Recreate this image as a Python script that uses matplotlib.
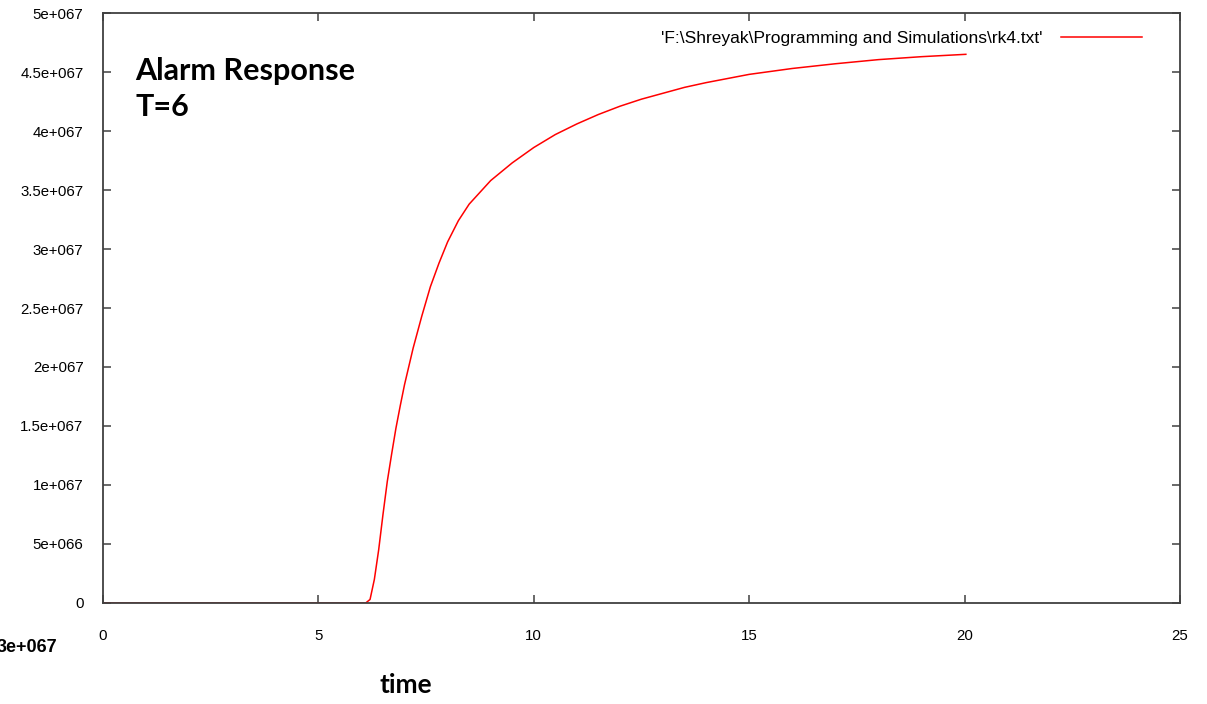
"""
Alarm response curve (gnuplot-style rk4 output), T=6.

Output: out.png
"""

import matplotlib
matplotlib.use("Agg")
import matplotlib.pyplot as plt

plt.rcParams.update({
    "font.family": ["Liberation Sans", "DejaVu Sans"],
    "font.size": 11,
})

# ── data (y in units of 1e66) ──
time = [0.0, 6.10, 6.20, 6.30, 6.40, 6.50, 6.60, 6.70, 6.80, 6.90, 7.00,
        7.20, 7.40, 7.60, 7.80, 8.00, 8.25, 8.50, 9.00, 9.50, 10.0,
        10.5, 11.0, 11.5, 12.0, 12.5, 13.0, 13.5, 14.0, 15.0, 16.0,
        17.0, 18.0, 19.0, 20.03]
response_e66 = [0.0, 0.0, 0.3, 2.0, 4.5, 7.5, 10.3, 12.6, 14.8, 16.7, 18.5,
                21.6, 24.3, 26.8, 28.8, 30.6, 32.4, 33.8, 35.8, 37.3, 38.6,
                39.7, 40.6, 41.4, 42.1, 42.7, 43.2, 43.7, 44.1, 44.8, 45.3,
                45.7, 46.05, 46.3, 46.5]

x_ticks = [0, 5, 10, 15, 20, 25]
y_ticks_e66 = [0, 5, 10, 15, 20, 25, 30, 35, 40, 45, 50]
y_tick_labels = ["0", "5e+066", "1e+067", "1.5e+067", "2e+067", "2.5e+067",
                 "3e+067", "3.5e+067", "4e+067", "4.5e+067", "5e+067"]

legend_label = "'F:\\Shreyak\\Programming and Simulations\\rk4.txt'"


def main():
    fig = plt.figure(figsize=(12.07, 7.04), dpi=100)
    ax = fig.add_axes([0.0853, 0.1435, 0.8923, 0.838])

    y = [v * 1e66 for v in response_e66]
    ax.plot(time, y, color="#ff0000", lw=1.1, label=legend_label)

    ax.set_xlim(0, 25)
    ax.set_ylim(0, 5e67)
    ax.set_xticks(x_ticks)
    ax.set_xticklabels([str(t) for t in x_ticks])
    ax.set_yticks([v * 1e66 for v in y_ticks_e66])
    ax.set_yticklabels(y_tick_labels)

    for s in ax.spines.values():
        s.set_color("#404040")
        s.set_linewidth(1.3)
    ax.tick_params(direction="in", length=6, width=1.1, color="#404040",
                   top=True, right=True, labelsize=10.8)
    ax.tick_params(axis="x", pad=19)
    ax.tick_params(axis="y", pad=14)

    # legend, gnuplot style: text then a sample line at top right
    ax.legend(loc="upper right", frameon=False, markerfirst=False,
              handlelength=4.65, handletextpad=1.1, fontsize=12.5,
              borderaxespad=0.3, bbox_to_anchor=(0.976, 0.991))

    ax.text(0.03, 0.926, "Alarm Response\nT=6", transform=ax.transAxes,
            family=["Lato", "DejaVu Sans"], fontweight="bold", fontsize=22,
            va="top", ha="left", linespacing=1.36)

    fig.text(380 / 1207, 1 - 685 / 704, "time", family=["Lato", "DejaVu Sans"],
             fontweight="bold", fontsize=19, va="center", ha="left")
    fig.text(-3 / 1207, 1 - 648 / 704, "3e+067", fontweight="bold",
             fontsize=13, va="center", ha="left")

    fig.savefig("out.png", dpi=100)
    plt.close(fig)


if __name__ == "__main__":
    main()
